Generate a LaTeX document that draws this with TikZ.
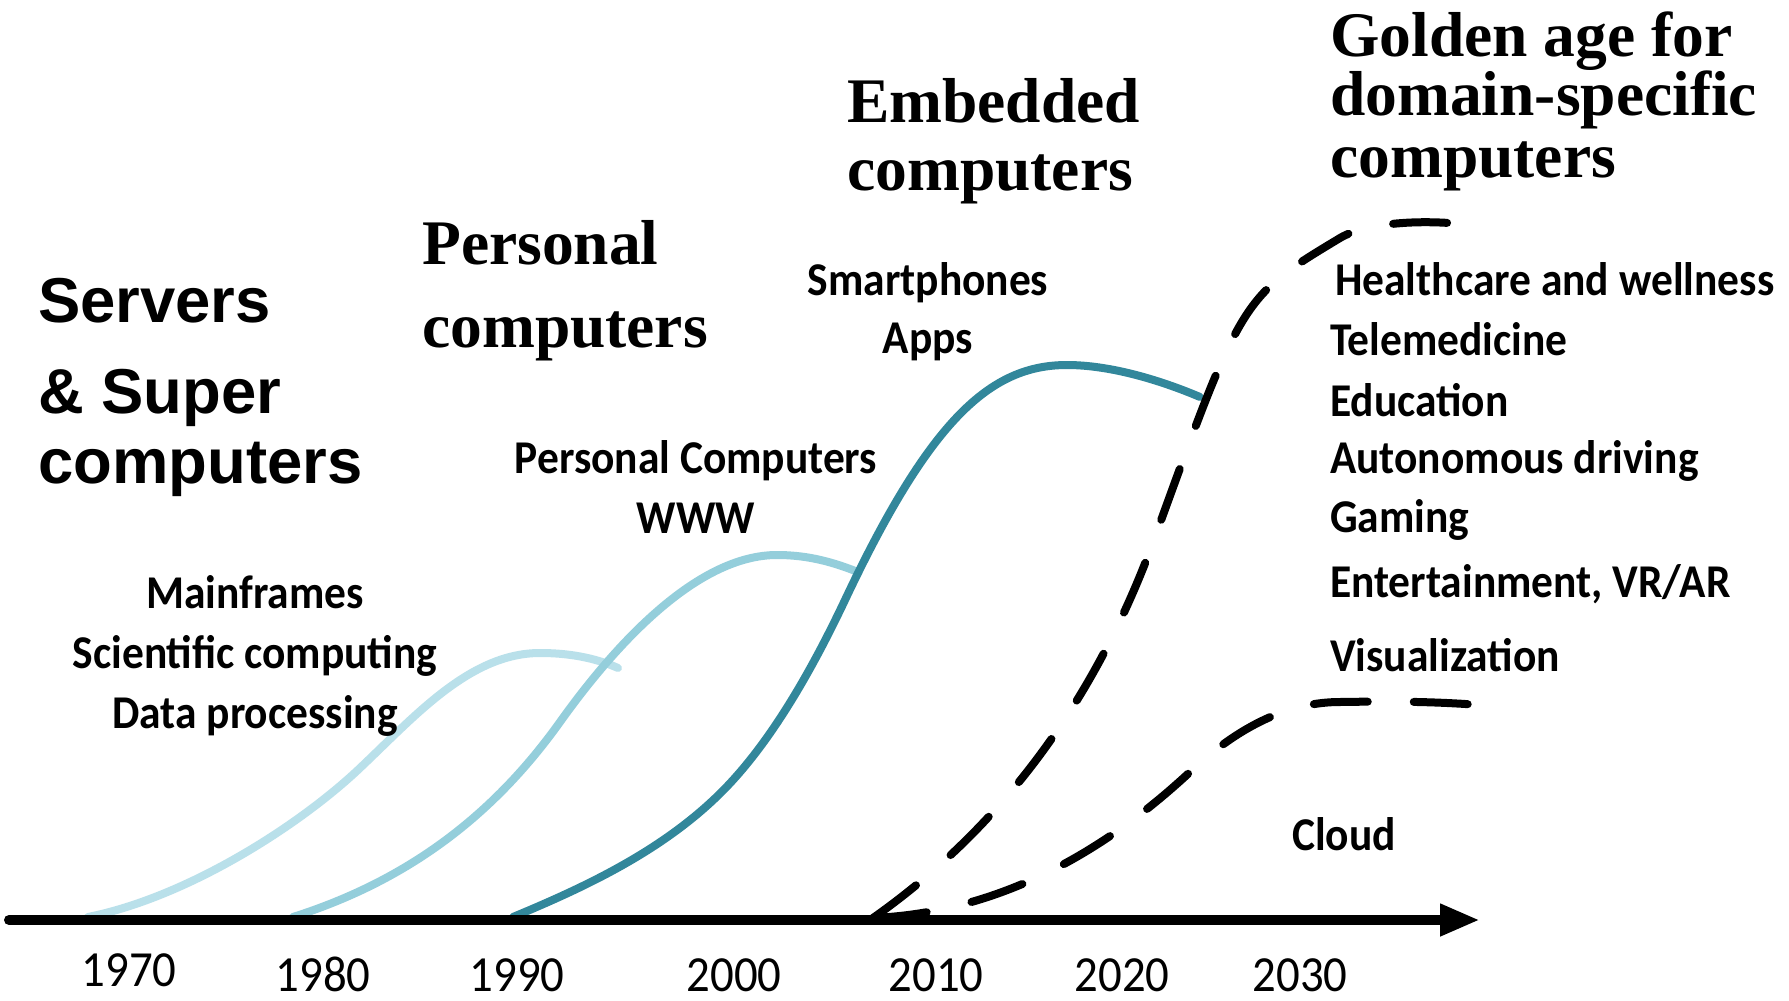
\documentclass[tikz,border=0pt]{standalone}
\usepackage{fontspec}
\usetikzlibrary{arrows.meta}
\newfontfamily\calfam[FakeStretch=0.925]{Carlito}
\newfontfamily\serfam{Liberation Serif}
\newfontfamily\srvfam{Liberation Sans}
\definecolor{waveone}{HTML}{B9E0EA}
\definecolor{wavetwo}{HTML}{94CEDB}
\definecolor{wavethree}{HTML}{32879B}
\begin{document}
\begin{tikzpicture}[x=1pt,y=-1pt,
  yearlbl/.style={font=\calfam\fontsize{50.6}{55}\selectfont, anchor=base, inner sep=0pt},
  itemlbl/.style={font=\calfam\bfseries\fontsize{47}{50}\selectfont, anchor=base, inner sep=0pt},
  domainlbl/.style={font=\calfam\bfseries\fontsize{47}{50}\selectfont, anchor=base west, inner sep=0pt},
  eralbl/.style={font=\serfam\bfseries\fontsize{63.5}{64}\selectfont, anchor=base west, inner sep=0pt},
  srvlbl/.style={font=\srvfam\bfseries\fontsize{63.4}{64}\selectfont, anchor=base west, inner sep=0pt},
  wave/.style={line width=8pt, line cap=round},
  future/.style={line width=8pt, line cap=round, dash pattern=on 54pt off 46pt, black},
  axisline/.style={line width=10pt, line cap=round, -{Triangle[length=40pt,width=30pt]}}
]
\useasboundingbox[fill=white] (0,0) rectangle (1789,1001);

% growth waves: rise, peak, slight decline
\draw[wave, waveone] (88,917)
  .. controls (188,897) and (300,825) .. (360,768)
  .. controls (415,716) and (470,653) .. (540,653)
  .. controls (575,653) and (600,660) .. (618,668);
\draw[wave, wavetwo] (293,917)
  .. controls (403,882) and (490,820) .. (560,722)
  .. controls (620,638) and (700,555) .. (777,555)
  .. controls (810,555) and (835,563) .. (858,572);
\draw[wave, wavethree] (513,917)
  .. controls (590,885) and (673,846) .. (733,780)
  .. controls (773,736) and (810,674) .. (845,600)
  .. controls (930,420) and (990,365) .. (1067,365)
  .. controls (1110,365) and (1160,380) .. (1200,397);

% projected waves
\draw[future] (873,918)
  .. controls (1002,827) and (1096,700) .. (1155,537)
  .. controls (1242,297) and (1242,297) .. (1340,238)
  .. controls (1370,220) and (1440,219) .. (1482,227);
\draw[future] (873,918)
  .. controls (986,913) and (1091,864) .. (1190,772)
  .. controls (1240,725) and (1290,702) .. (1340,702)
  .. controls (1400,701) and (1440,702) .. (1480,705);

% time axis
\coordinate (axstart) at (9,920);
\coordinate (axend) at (1480,920);
\draw[axisline] (axstart) -- (axend);

% years
\node[yearlbl] (y1970) at (129,986) {1970};
\node[yearlbl] (y1980) at (323,991) {1980};
\node[yearlbl] (y1990) at (517,991) {1990};
\node[yearlbl] (y2000) at (734,991) {2000};
\node[yearlbl] (y2010) at (936,991) {2010};
\node[yearlbl] (y2020) at (1122,991) {2020};
\node[yearlbl] (y2030) at (1300,991) {2030};

% era titles
\node[srvlbl] (srv1) at (38,322) {Servers};
\node[srvlbl] (srv2) at (38,413) {\& Super};
\node[srvlbl] (srv3) at (38,483) {computers};

\node[eralbl] (pc1) at (422,264) {Personal};
\node[eralbl] (pc2) at (422,347) {computers};

\node[eralbl] (emb1) at (847,122) {Embedded};
\node[eralbl] (emb2) at (847,190) {computers};

\node[eralbl] (gold1) at (1330,56) {Golden age for};
\node[eralbl] (gold2) at (1330,115) {domain-specific};
\node[eralbl] (gold3) at (1330,177) {computers};

% applications of each era
\node[itemlbl] (main1) at (255,608) {Mainframes};
\node[itemlbl] (main2) at (255,668) {Scientific computing};
\node[itemlbl] (main3) at (255,728) {Data processing};

\node[itemlbl] (pcapp1) at (696,473) {Personal Computers};
\node[itemlbl] (pcapp2) at (696,533) {WWW};

\node[itemlbl] (emapp1) at (928,295) {Smartphones};
\node[itemlbl] (emapp2) at (928,353) {Apps};

\node[domainlbl] (dom1) at (1335,295) {Healthcare and wellness};
\node[domainlbl] (dom2) at (1330,355) {Telemedicine};
\node[domainlbl] (dom3) at (1330,416) {Education};
\node[domainlbl] (dom4) at (1330,473) {Autonomous driving};
\node[domainlbl] (dom5) at (1330,532) {Gaming};
\node[domainlbl] (dom6) at (1330,597) {Entertainment, VR/AR};
\node[domainlbl] (dom7) at (1330,671) {Visualization};

\node[domainlbl] (cloud) at (1292,850) {Cloud};
\end{tikzpicture}
\end{document}
